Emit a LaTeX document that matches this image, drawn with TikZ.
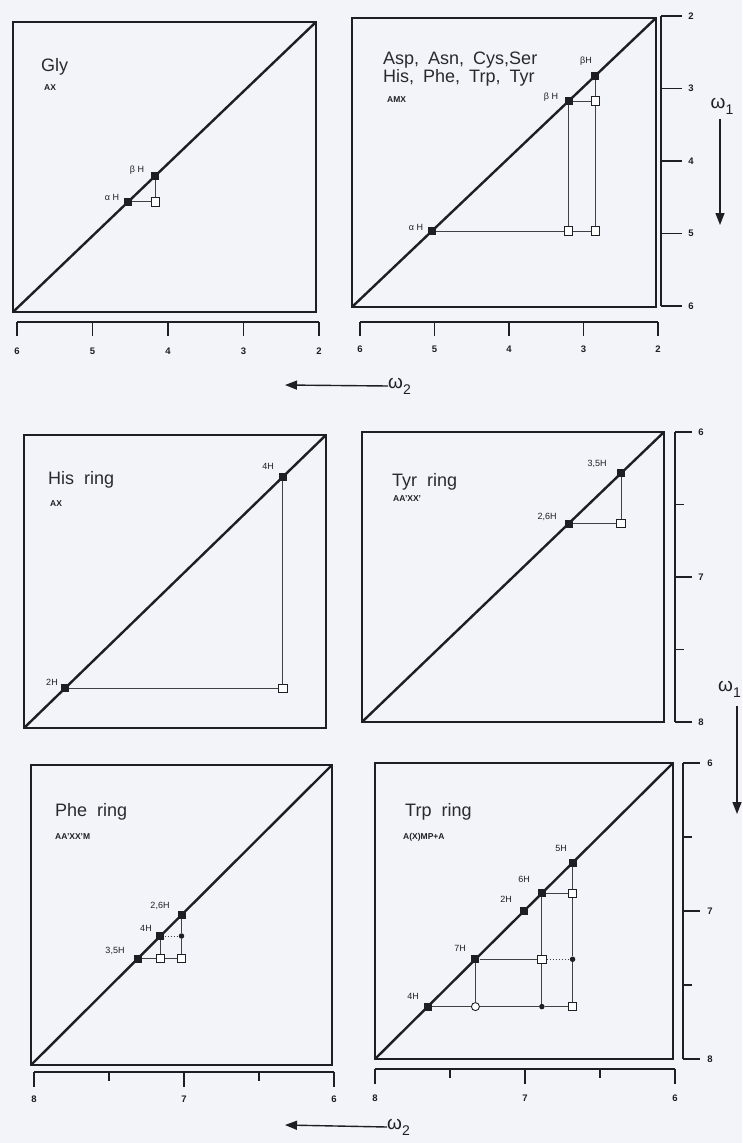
\documentclass[tikz,border=0pt]{standalone}
\usepackage{fontspec}
\setmainfont{Liberation Sans}
\usetikzlibrary{calc,arrows.meta}
\definecolor{bg}{RGB}{243,244,250}
\definecolor{ink}{RGB}{30,30,36}
\tikzset{
 box/.style={draw=ink,line width=2pt},
 diag/.style={draw=ink,line width=2.4pt},
 conn/.style={draw=ink!85,line width=1pt},
 dotconn/.style={draw=ink!85,line width=1pt,dotted},
 fsq/.style={rectangle,fill=ink,minimum size=8pt,inner sep=0pt},
 osq/.style={rectangle,draw=ink,fill=white,line width=0.9pt,minimum size=8.5pt,inner sep=0pt},
 fdot/.style={circle,fill=ink,minimum size=5.5pt,inner sep=0pt},
 ocirc/.style={circle,draw=ink,fill=white,line width=0.9pt,minimum size=8pt,inner sep=0pt},
 title/.style={font=\fontsize{18}{20}\selectfont,text=ink!95,anchor=base west,inner sep=0pt},
 sub/.style={font=\fontsize{8.5}{9}\selectfont\bfseries,text=ink,anchor=base west,inner sep=0pt},
 plab/.style={font=\fontsize{9}{10}\selectfont,text=ink,inner sep=0pt},
 tick/.style={draw=ink,line width=1.5pt},
 num/.style={font=\fontsize{9.5}{10}\selectfont\bfseries,text=ink,inner sep=0pt},
 arr/.style={draw=ink,line width=1.4pt,-{Triangle[length=12pt,width=9pt]}},
 omega/.style={font=\fontsize{19}{20}\selectfont,text=ink,inner sep=0pt}
}
\newcommand{\omg}[1]{ω\raisebox{-6pt}{\fontsize{14}{14}\selectfont #1}}
\newcommand{\gap}{\hspace{9pt}}
\begin{document}
\begin{tikzpicture}[x=1pt,y=-1pt]
\fill[bg] (0,0) rectangle (742,1143);
\useasboundingbox (0,0) rectangle (742,1143);
\clip (0,0) rectangle (742,1143);

% ---------------- Panel 1: Gly
\coordinate (A1) at (13,312); \coordinate (B1) at (316,22);
\draw[box] (A1) rectangle (B1);
\draw[diag] (A1) -- (B1);
\node[title] (t1) at (41,71) {Gly};
\node[sub] (s1) at (44,90) {AX};
\node[fsq] (g1b) at ($(A1)!0.47!(B1)$) {};
\node[fsq] (g1a) at ($(A1)!0.38!(B1)$) {};
\node[osq] (g1x) at (g1b |- g1a) {};
\draw[conn] (g1a) -- (g1x);
\draw[conn] (g1b) -- (g1x);
\node[plab] (l1b) at (137,170) {β H};
\node[plab] (l1a) at (112,197) {α H};
% bottom axis
\draw[tick] (17,322) -- (319,322);
\foreach \k/\v in {0/6,1/5,2/4,3/3,4/2}{
  \draw[tick] ({17+\k*75.5},322) -- ({17+\k*75.5},336);
  \node[num] (ax1n\k) at ({17+\k*75.5},351) {\v};
}

% ---------------- Panel 2: AMX
\coordinate (A2) at (352,307); \coordinate (B2) at (656,18);
\draw[box] (A2) rectangle (B2);
\draw[diag] (A2) -- (B2);
\node[title] (t2a) at (383,64) {Asp,\gap Asn,\gap Cys,Ser};
\node[title] (t2b) at (383,82) {His,\gap Phe,\gap Trp,\gap Tyr};
\node[sub] (s2) at (387,102) {AMX};
\node[fsq] (m2a) at ($(A2)!0.2625!(B2)$) {};
\node[fsq] (m2b) at ($(A2)!0.7125!(B2)$) {};
\node[fsq] (m2c) at ($(A2)!0.80!(B2)$) {};
\node[osq] (x2cb) at (m2c |- m2b) {};
\node[osq] (x2ba) at (m2b |- m2a) {};
\node[osq] (x2ca) at (m2c |- m2a) {};
\draw[conn] (m2b) -- (x2cb);
\draw[conn] (m2c) -- (x2cb);
\draw[conn] (x2cb) -- (x2ca);
\draw[conn] (m2b) -- (x2ba);
\draw[conn] (m2a) -- (x2ba);
\draw[conn] (x2ba) -- (x2ca);
\node[plab] (l2c) at (586,61) {βH};
\node[plab] (l2b) at (551,97) {β H};
\node[plab] (l2a) at (416,227) {α H};
% bottom axis
\draw[tick] (360,322) -- (658,322);
\foreach \k/\v in {0/6,1/5,2/4,3/3,4/2}{
  \draw[tick] ({360+\k*74.5},322) -- ({360+\k*74.5},336);
  \node[num] (ax2n\k) at ({360+\k*74.5},349) {\v};
}
% right axis
\draw[tick] (661,16) -- (661,306);
\foreach \k/\v in {0/2,1/3,2/4,3/5,4/6}{
  \draw[tick] (661,{16+\k*72.5}) -- (682,{16+\k*72.5});
  \node[num] (ay2n\k) at (691,{16+\k*72.5}) {\v};
}
\node[omega] (w1a) at (722,106) {\omg{1}};
\coordinate (w1aend) at (720,225);
\draw[arr] (720,119) -- (w1aend);

% omega2 arrow, row 1
\node[omega,anchor=west] (w2a) at (388,386) {\omg{2}};
\coordinate (w2aend) at (285,385);
\draw[arr] (w2a.west) -- (w2aend);

% ---------------- Panel 3: His ring
\coordinate (A3) at (24,728); \coordinate (B3) at (326,435);
\draw[box] (A3) rectangle (B3);
\draw[diag] (A3) -- (B3);
\node[title] (t3) at (48,484) {His\ \ ring};
\node[sub] (s3) at (50,506) {AX};
\node[fsq] (h4) at ($(A3)!0.857!(B3)$) {};
\node[fsq] (h2) at ($(A3)!0.135!(B3)$) {};
\node[osq] (hx) at (h4 |- h2) {};
\draw[conn] (h2) -- (hx);
\draw[conn] (h4) -- (hx);
\node[plab] (l3a) at (268,466) {4H};
\node[plab] (l3b) at (52,682) {2H};

% ---------------- Panel 4: Tyr ring
\coordinate (A4) at (362,722); \coordinate (B4) at (664,432);
\draw[box] (A4) rectangle (B4);
\draw[diag] (A4) -- (B4);
\node[title] (t4) at (392,486) {Tyr\ \ ring};
\node[sub] (s4) at (393,501) {AA'XX'};
\node[fsq] (y35) at ($(A4)!0.858!(B4)$) {};
\node[fsq] (y26) at ($(A4)!0.684!(B4)$) {};
\node[osq] (yx) at (y35 |- y26) {};
\draw[conn] (y26) -- (yx);
\draw[conn] (y35) -- (yx);
\node[plab] (l4a) at (597,464) {3,5H};
\node[plab] (l4b) at (547,517) {2,6H};
% right axis
\draw[tick] (675,432) -- (675,722);
\foreach \k/\v/\l in {0/6/17,1//9,2/7/17,3//9,4/8/17}{
  \draw[tick] (675,{432+\k*72.5}) -- ({675+\l},{432+\k*72.5});
  \node[num] (ay4n\k) at (701,{432+\k*72.5}) {\v};
}
\node[omega,anchor=east] (w1b) at (741,689) {\omg{1}};
\coordinate (w1bend) at (737,814);
\draw[arr] (737,706) -- (w1bend);

% ---------------- Panel 5: Phe ring
\coordinate (A5) at (31,1065); \coordinate (B5) at (332,765);
\draw[box] (A5) rectangle (B5);
\draw[diag] (A5) -- (B5);
\node[title] (t5) at (55,816) {Phe\ \ ring};
\node[sub] (s5) at (55,839) {AA'XX'M};
\node[fsq] (f26) at ($(A5)!0.50!(B5)$) {};
\node[fsq] (f4) at ($(A5)!0.43!(B5)$) {};
\node[fsq] (f35) at ($(A5)!0.355!(B5)$) {};
\node[fdot] (fd) at (f26 |- f4) {};
\node[osq] (fo1) at (f4 |- f35) {};
\node[osq] (fo2) at (f26 |- f35) {};
\draw[conn] (f35) -- (fo1);
\draw[conn] (fo1) -- (fo2);
\draw[conn] (f4) -- (fo1);
\draw[conn] (f26) -- (fd);
\draw[conn] (fd) -- (fo2);
\draw[dotconn] (f4) -- (fd);
\node[plab] (l5a) at (160,906) {2,6H};
\node[plab] (l5b) at (146,928) {4H};
\node[plab] (l5c) at (115,951) {3,5H};
% bottom axis
\draw[tick] (34,1072) -- (334,1072);
\foreach \k/\v/\l in {0/8/15,1//9,2/7/15,3//9,4/6/15}{
  \draw[tick] ({34+\k*75},1072) -- ({34+\k*75},{1072+\l});
  \node[num] (ax5n\k) at ({34+\k*75},1099) {\v};
}

% ---------------- Panel 6: Trp ring
\coordinate (A6) at (375,1059); \coordinate (B6) at (673,763);
\draw[box] (A6) rectangle (B6);
\draw[diag] (A6) -- (B6);
\node[title] (t6) at (405,816) {Trp\ \ ring};
\node[sub] (s6) at (403,839) {A(X)MP+A};
\node[fsq] (w5) at ($(A6)!0.663!(B6)$) {};
\node[fsq] (w6) at ($(A6)!0.56!(B6)$) {};
\node[fsq] (w2) at ($(A6)!0.50!(B6)$) {};
\node[fsq] (w7) at ($(A6)!0.337!(B6)$) {};
\node[fsq] (w4) at ($(A6)!0.177!(B6)$) {};
\node[osq] (x56) at (w5 |- w6) {};
\node[osq] (x67) at (w6 |- w7) {};
\node[fdot] (x57) at (w5 |- w7) {};
\node[ocirc] (x74) at (w7 |- w4) {};
\node[fdot] (x64) at (w6 |- w4) {};
\node[osq] (x54) at (w5 |- w4) {};
\draw[conn] (w6) -- (x56);
\draw[conn] (w5) -- (x56);
\draw[conn] (x56) -- (x57);
\draw[conn] (x57) -- (x54);
\draw[conn] (w7) -- (x67);
\draw[dotconn] (x67) -- (x57);
\draw[conn] (w6) -- (x67);
\draw[conn] (x67) -- (x64);
\draw[conn] (w4) -- (x74);
\draw[conn] (x74) -- (x64);
\draw[conn] (x64) -- (x54);
\draw[conn] (w7) -- (x74);
\node[plab] (l6a) at (561,848) {5H};
\node[plab] (l6b) at (524,879) {6H};
\node[plab] (l6c) at (506,899) {2H};
\node[plab] (l6d) at (460,948) {7H};
\node[plab] (l6e) at (413,996) {4H};
% right axis
\draw[tick] (683,763) -- (683,1059);
\foreach \k/\v/\l in {0/6/17,1//9,2/7/17,3//9,4/8/17}{
  \draw[tick] (683,{763+\k*74}) -- ({683+\l},{763+\k*74});
  \node[num] (ay6n\k) at (710,{763+\k*74}) {\v};
}
% bottom axis
\draw[tick] (375,1069) -- (675,1069);
\foreach \k/\v/\l in {0/8/15,1//9,2/7/15,3//9,4/6/15}{
  \draw[tick] ({375+\k*75},1069) -- ({375+\k*75},{1069+\l});
  \node[num] (ax6n\k) at ({375+\k*75},1098) {\v};
}

% omega2 arrow, row 3
\node[omega,anchor=west] (w2b) at (387,1127) {\omg{2}};
\coordinate (w2bend) at (285,1125);
\draw[arr] (w2b.west) -- (w2bend);
\end{tikzpicture}
\end{document}
